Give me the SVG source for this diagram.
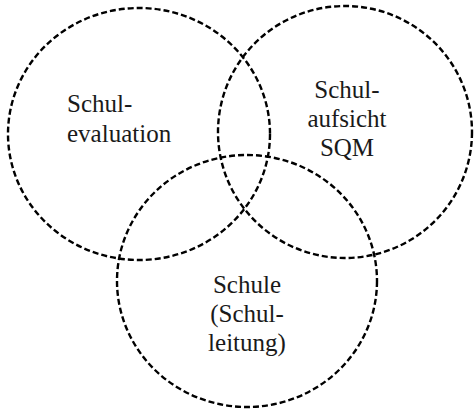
<svg xmlns="http://www.w3.org/2000/svg" width="474" height="410" viewBox="0 0 474 410">
  <style>
    .ring { fill: none; stroke: #000; stroke-width: 2.4; stroke-dasharray: 6 3; }
    .label { font-family: "Times New Roman", Times, Tinos, "Liberation Serif", "DejaVu Serif", serif; font-size: 25px; fill: #1a1a1a; }
    .mid { text-anchor: middle; }
  </style>
  <rect width="474" height="410" fill="#fff"/>
  <g id="connectors"></g>
  <g id="schulevaluation">
    <ellipse class="ring" cx="139" cy="134" rx="131" ry="126"/>
    <text class="label" x="67" y="112">Schul-</text>
    <text class="label" x="67" y="142">evaluation</text>
  </g>
  <g id="schulaufsicht">
    <ellipse class="ring" cx="345" cy="132" rx="127" ry="126"/>
    <text class="label mid" x="347" y="98">Schul-</text>
    <text class="label mid" x="347" y="127">aufsicht</text>
    <text class="label mid" x="347" y="156">SQM</text>
  </g>
  <g id="schule">
    <ellipse class="ring" cx="247" cy="281" rx="130" ry="126"/>
    <text class="label mid" x="247" y="293">Schule</text>
    <text class="label mid" x="247" y="322">(Schul-</text>
    <text class="label mid" x="247" y="351">leitung)</text>
  </g>
</svg>
